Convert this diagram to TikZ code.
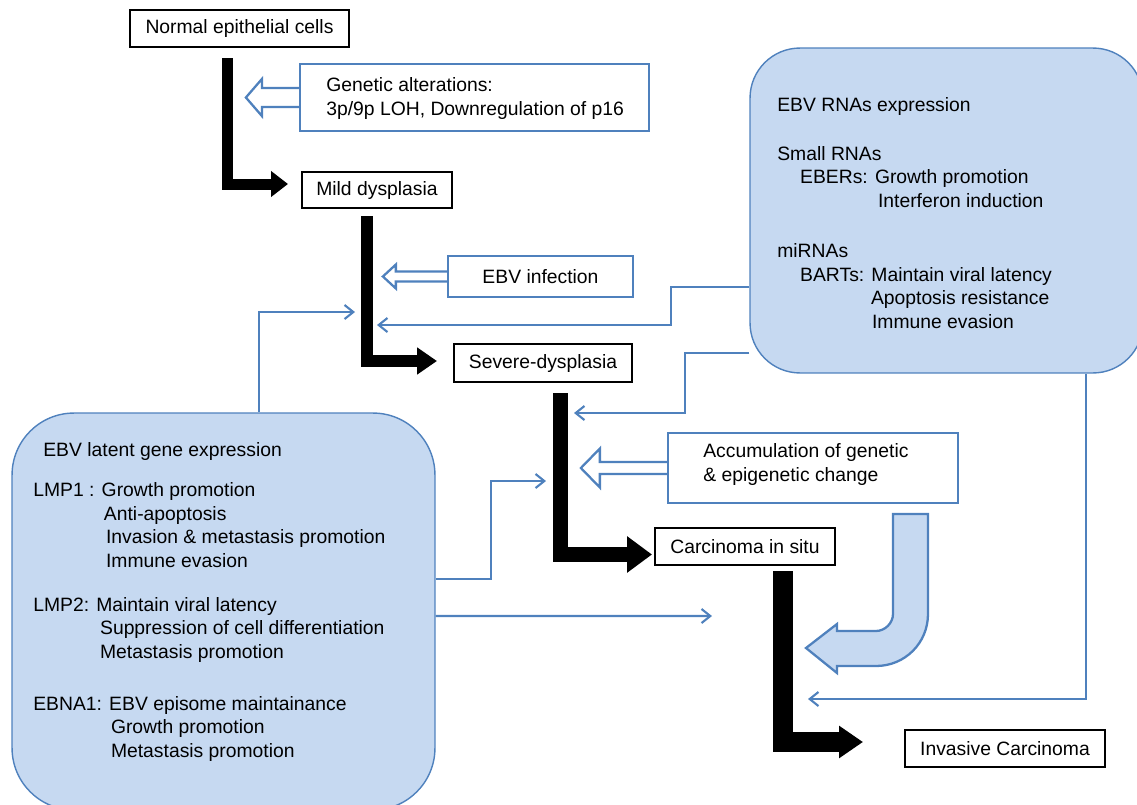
\documentclass[tikz,border=0pt]{standalone}
\usepackage{fontspec}
\setmainfont{Liberation Sans}
\usetikzlibrary{arrows.meta}
\definecolor{ebvblue}{HTML}{4F81BD}
\definecolor{ebvfill}{HTML}{C6D9F1}
\tikzset{
  stage/.style={draw, line width=1.6pt, fill=white, inner sep=0pt},
  infobox/.style={draw=ebvblue, line width=1.3pt, fill=white, inner sep=0pt},
  panel/.style={draw=ebvblue, line width=0.8pt, fill=ebvfill, inner sep=0pt},
  txt/.style={inner sep=0pt, anchor=base west, align=left},
  feed/.style={draw=ebvblue, line width=1.2pt, -{Straight Barb[length=5pt,width=8pt]}},
  hollow/.style={draw=ebvblue, line width=1.3pt, fill=white, line join=miter},
  bendarrow/.style={draw=ebvblue, line width=1.3pt, fill=ebvfill, line join=miter},
  stagearrow/.style={line join=miter},
}
% node, shaft half, head half, shaft length, head length
\newcommand{\hollowarrow}[5]{%
  \path[hollow] (#1.west) ++(0,-#2) -- ++(-#4,0) -- ++(0,#2-#3) -- ++(-#5,#3)
    -- ++(#5,#3) -- ++(0,#2-#3) -- ++(#4,0);
}

\begin{document}
\begin{tikzpicture}[x=0.02cm, y=-0.02cm, font=\fontsize{11}{13.3}\selectfont]
  \useasboundingbox (0,0) rectangle (1137,805);
  \clip (0,0) rectangle (1137,805);

  % panels
  \node[panel, rounded corners=1.24cm, minimum width=8.46cm, minimum height=7.94cm] (latent) at (223.5,611.5) {};
  \node[panel, rounded corners=1cm, minimum width=7.86cm, minimum height=6.5cm] (rna) at (946.5,210.5) {};

  % stages
  \node[stage, minimum width=4.38cm, minimum height=0.74cm] (normal) at (239.5,28.5) {Normal epithelial cells};
  \node[stage, minimum width=3cm, minimum height=0.72cm] (mild) at (377,190) {Mild dysplasia};
  \node[stage, minimum width=3.56cm, minimum height=0.76cm] (severe) at (543,363) {Severe-dysplasia};
  \node[stage, minimum width=3.6cm, minimum height=0.74cm] (cis) at (745,546.5) {Carcinoma in situ};
  \node[stage, minimum width=4cm, minimum height=0.74cm] (invasive) at (1005,748.5) {Invasive Carcinoma};

  % factor boxes
  \node[infobox, minimum width=6.98cm, minimum height=1.34cm] (genetic) at (474.5,97.5) {};
  \node[infobox, minimum width=3.7cm, minimum height=0.82cm] (infect) at (540.5,276.5) {EBV infection};
  \node[infobox, minimum width=5.8cm, minimum height=1.4cm] (accum) at (813,468) {};

  % multi-line texts sit on their last baseline
  \node[txt] (genetictext) at (326,115) {Genetic alterations:\\3p/9p LOH, Downregulation of p16};
  \node[txt] (accumtext) at (703,481) {Accumulation of genetic\\\& epigenetic change};

  \hollowarrow{genetic}{9.5}{18.5}{37}{16}
  \hollowarrow{infect}{5}{12}{51}{13}
  \hollowarrow{accum}{6}{19.5}{67}{19}

  % panel texts
  \node[txt] (latenttitle) at (43,456) {EBV latent gene expression};
  \node[txt] (lmpone) at (33,567) {LMP1 : Growth promotion\\
    \hspace*{40.2pt}Anti-apoptosis\\
    \hspace*{41.4pt}Invasion \& metastasis promotion\\
    \hspace*{41.4pt}Immune evasion};
  \node[txt] (lmptwo) at (33,658) {LMP2: Maintain viral latency\\
    \hspace*{38pt}Suppression of cell differentiation\\
    \hspace*{38pt}Metastasis promotion};
  \node[txt] (ebna) at (33,757) {EBNA1: EBV episome maintainance\\
    \hspace*{44.2pt}Growth promotion\\
    \hspace*{44.2pt}Metastasis promotion};

  \node[txt] (rnatitle) at (777,111) {EBV RNAs expression};
  \node[txt] (smallrna) at (777,207) {Small RNAs\\
    \hspace*{13pt}EBERs: Growth promotion\\
    \hspace*{57.3pt}Interferon induction};
  \node[txt] (mirna) at (777,328) {miRNAs\\
    \hspace*{13pt}BARTs: Maintain viral latency\\
    \hspace*{53.3pt}Apoptosis resistance\\
    \hspace*{53.9pt}Immune evasion};

  % progression arrows
  \coordinate (s1) at (227,58);   \coordinate (t1) at (288,184);
  \coordinate (s2) at (366.5,216); \coordinate (t2) at (437,361);
  \coordinate (s3) at (560.5,393); \coordinate (t3) at (652,554.5);
  \coordinate (s4) at (783,571);   \coordinate (t4) at (863,742);
  \draw[stagearrow, line width=0.22cm, -{Triangle[length=0.34cm,width=0.5cm]}] (s1) |- (t1);
  \draw[stagearrow, line width=0.24cm, -{Triangle[length=0.4cm,width=0.52cm]}] (s2) |- (t2);
  \draw[stagearrow, line width=0.3cm, -{Triangle[length=0.5cm,width=0.7cm]}] (s3) |- (t3);
  \draw[stagearrow, line width=0.4cm, -{Triangle[length=0.48cm,width=0.62cm]}] (s4) |- (t4);

  % influence lines
  \coordinate (e1) at (355,312);
  \coordinate (e2) at (377,325);
  \coordinate (e3) at (574,413);
  \coordinate (e4) at (808,699);
  \coordinate (e5) at (546,481);
  \coordinate (e6) at (712,616);
  \draw[feed] ([xshift=0.71cm]latent.north) |- (e1);
  \draw[feed] ([yshift=-1.53cm]rna.west) -- ++(-78,0) |- (e2);
  \draw[feed] ([yshift=-2.85cm]rna.west) -- ++(-64,0) |- (e3);
  \draw[feed] ([xshift=2.79cm]rna.south) |- (e4);
  \draw[feed] ([yshift=0.65cm]latent.east) -- ++(55,0) |- (e5);
  \draw[feed] ([yshift=-0.09cm]latent.east) -- (e6);

  % bent block arrow
  \draw[bendarrow] (893,514) -- (928,514) -- (928,614) .. controls (928,643) and (905,666) .. (876,666)
    -- (837,666) -- (837,673) -- (806,648) -- (837,624) -- (837,631) -- (876,631)
    .. controls (885,631) and (893,623) .. (893,614) -- cycle;
\end{tikzpicture}
\end{document}
